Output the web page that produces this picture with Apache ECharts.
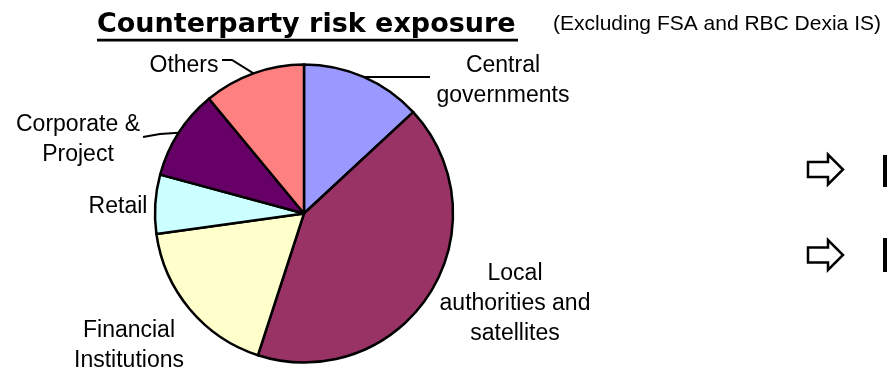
<!DOCTYPE html>
<html>
<head>
<meta charset="utf-8">
<script src="https://cdn.jsdelivr.net/npm/echarts@6/dist/echarts.min.js"></script>
<style>
html, body { margin: 0; padding: 0; background: #fff; }
#main { width: 887px; height: 371px; }
</style>
</head>
<body>
<div id="main"></div>
<script>
// exposure split (percent)
var sectors = ['Central\ngovernments', 'Local\nauthorities and\nsatellites', 'Financial\nInstitutions', 'Retail', 'Corporate &\nProject', 'Others'];
var shares = [13.1, 41.9, 17.8, 6.4, 9.8, 11.0];
var colors = ['#9999ff', '#993366', '#ffffcc', '#ccffff', '#660066', '#ff8080'];
var withLine = [true, false, false, false, true, true];

// label block centres and leader line ends
var labelPos = [[503, 81], [515, 304], [129, 346], [118, 207], [78, 140], [184, 66]];
var lineEnd = [[[400, 77], [430, 77]], null, null, null, [[160, 134], [143, 137]], [[232, 60], [222, 60]]];

var chart = echarts.init(document.getElementById('main'));

var pieData = [];
sectors.forEach(function (s, i) {
    pieData.push({
        name: s,
        value: shares[i],
        itemStyle: { color: colors[i] },
        labelLine: { show: withLine[i] }
    });
});

function arrow(y) {
    // outlined block arrow pointing right
    return {
        type: 'polygon',
        shape: { points: [[808, y - 7.5], [828, y - 7.5], [828, y - 15], [843, y], [828, y + 15], [828, y + 7.5], [808, y + 7.5]] },
        style: { fill: '#fff', stroke: '#000', lineWidth: 2.5 }
    };
}

var option = {
    backgroundColor: '#ffffff',
    animation: false,
    graphic: [
        {
            type: 'text', left: 97, top: 11,
            style: { text: 'Counterparty risk exposure', font: 'bold 27px "DejaVu Sans"', fill: '#000' }
        },
        { type: 'rect', shape: { x: 97, y: 38.8, width: 421, height: 2.8 }, style: { fill: '#000' } },
        {
            type: 'text', left: 553, top: 14,
            style: { text: '(Excluding FSA and RBC Dexia IS)', font: '21px "Liberation Sans"', fill: '#000' }
        },
        arrow(169.5),
        arrow(255),
        { type: 'rect', shape: { x: 883, y: 155, width: 4, height: 32 }, style: { fill: '#000' } },
        { type: 'rect', shape: { x: 883, y: 238, width: 4, height: 34 }, style: { fill: '#000' } }
    ],
    series: [{
        type: 'pie',
        center: [304, 213.5],
        radius: 149,
        startAngle: 90,
        clockwise: true,
        avoidLabelOverlap: false,
        itemStyle: { borderColor: '#000', borderWidth: 2.5 },
        emphasis: { scale: false },
        label: {
            show: true,
            position: 'outside',
            formatter: '{b}',
            fontFamily: 'Liberation Sans',
            fontSize: 23,
            lineHeight: 30,
            color: '#000',
            overflow: 'none'
        },
        labelLine: {
            show: true,
            lineStyle: { color: '#000', width: 2 }
        },
        labelLayout: function (params) {
            var i = params.dataIndex;
            var out = {
                x: labelPos[i][0],
                y: labelPos[i][1],
                align: 'center',
                verticalAlign: 'middle'
            };
            if (lineEnd[i] && params.labelLinePoints) {
                out.labelLinePoints = [params.labelLinePoints[0]].concat(lineEnd[i]);
            }
            return out;
        },
        data: pieData
    }]
};
chart.setOption(option);
</script>
</body>
</html>
